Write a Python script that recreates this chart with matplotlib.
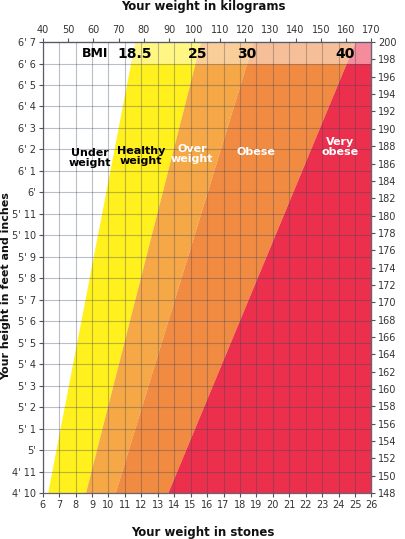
import matplotlib
matplotlib.use('Agg')
import matplotlib.pyplot as plt
import numpy as np

# heights (inches) at bottom and top of the chart
heights = [58, 79]

# BMI boundary lines, weight in stones read at 4'10 and 6'7
bmi_18_5 = [6.3, 11.6]
bmi_25 = [8.6, 15.6]
bmi_30 = [10.4, 18.8]
bmi_40 = [13.6, 25.0]

stones = list(range(6, 27))
kg_ticks = list(range(40, 171, 10))
cm_ticks = list(range(148, 201, 2))
inch_ticks = list(range(58, 80))
inch_labels = ["4' 10", "4' 11", "5'", "5' 1", "5' 2", "5' 3", "5' 4", "5' 5",
               "5' 6", "5' 7", "5' 8", "5' 9", "5' 10", "5' 11", "6'", "6' 1",
               "6' 2", "6' 3", "6' 4", "6' 5", "6' 6", "6' 7"]

# region labels: (text, stones, inches, colour)
region_labels = [("Under\nweight", 8.9, 73.6, 'black'),
                 ("Healthy\nweight", 12.0, 73.7, 'black'),
                 ("Over\nweight", 15.1, 73.8, 'white'),
                 ("Obese", 19.0, 73.9, 'white'),
                 ("Very\nobese", 24.1, 74.1, 'white')]
# header labels in the top row
header_labels = [("BMI", 9.2), ("18.5", 11.6), ("25", 15.4), ("30", 18.4), ("40", 24.4)]

c_yellow = '#fff01e'
c_over = '#f6a746'
c_obese = '#f28b42'
c_red = '#ec2f4c'
txt = '#333333'

fig = plt.figure(figsize=(4.06, 5.39), dpi=100)
ax = fig.add_axes([0.105, 0.085, 0.81, 0.837])
ax.set_xlim(6, 26)
ax.set_ylim(58, 79)

ax.fill_betweenx(heights, bmi_18_5, bmi_25, color=c_yellow, lw=0, zorder=1)
ax.fill_betweenx(heights, bmi_25, bmi_30, color=c_over, lw=0, zorder=1)
ax.fill_betweenx(heights, bmi_30, bmi_40, color=c_obese, lw=0, zorder=1)
ax.fill_betweenx(heights, bmi_40, [26, 26], color=c_red, lw=0, zorder=1)

# pale header row
ax.axhspan(78, 79, color='white', alpha=0.45, lw=0, zorder=1.5)

ax.set_xticks(stones)
ax.set_yticks(inch_ticks)
ax.set_yticklabels(inch_labels)
ax.grid(True, color='#3a4660', alpha=0.35, lw=0.8)
ax.set_axisbelow(False)
ax.tick_params(labelsize=7, labelcolor=txt, length=3, color='#555555', direction='out', pad=2)
for s in ax.spines.values():
    s.set_color('#666677')
    s.set_linewidth(0.9)

top = ax.secondary_xaxis('top', functions=(lambda s: 40 + (s - 6) * 6.5,
                                          lambda k: 6 + (k - 40) / 6.5))
top.set_xticks(kg_ticks)
top.tick_params(labelsize=7, labelcolor=txt, length=3, color='#555555', pad=2)

right = ax.secondary_yaxis('right', functions=(lambda h: 148 + (h - 58) * 52 / 21,
                                              lambda c: 58 + (c - 148) * 21 / 52))
right.set_yticks(cm_ticks)
right.tick_params(labelsize=7, labelcolor=txt, length=3, color='#555555', pad=2)

for t, x, y, c in region_labels:
    ax.text(x, y, t, ha='center', va='center', color=c, fontsize=8,
            fontweight='bold', linespacing=1.0, zorder=5)

for t, x in header_labels:
    ax.text(x, 78.45, t, ha='center', va='center', color='black',
            fontsize=9 if t == 'BMI' else 10, fontweight='bold', zorder=5)

fig.text(0.5, 0.988, 'Your weight in kilograms', ha='center', va='center',
         fontsize=8.5, fontweight='bold', color='#111111')
fig.text(0.5, 0.012, 'Your weight in stones', ha='center', va='center',
         fontsize=8.5, fontweight='bold', color='#111111')
fig.text(0.016, 0.47, 'Your height in feet and inches', ha='center', va='center',
         rotation=90, fontsize=8, fontweight='bold', color='#111111')

fig.savefig('out.png', dpi=100)
